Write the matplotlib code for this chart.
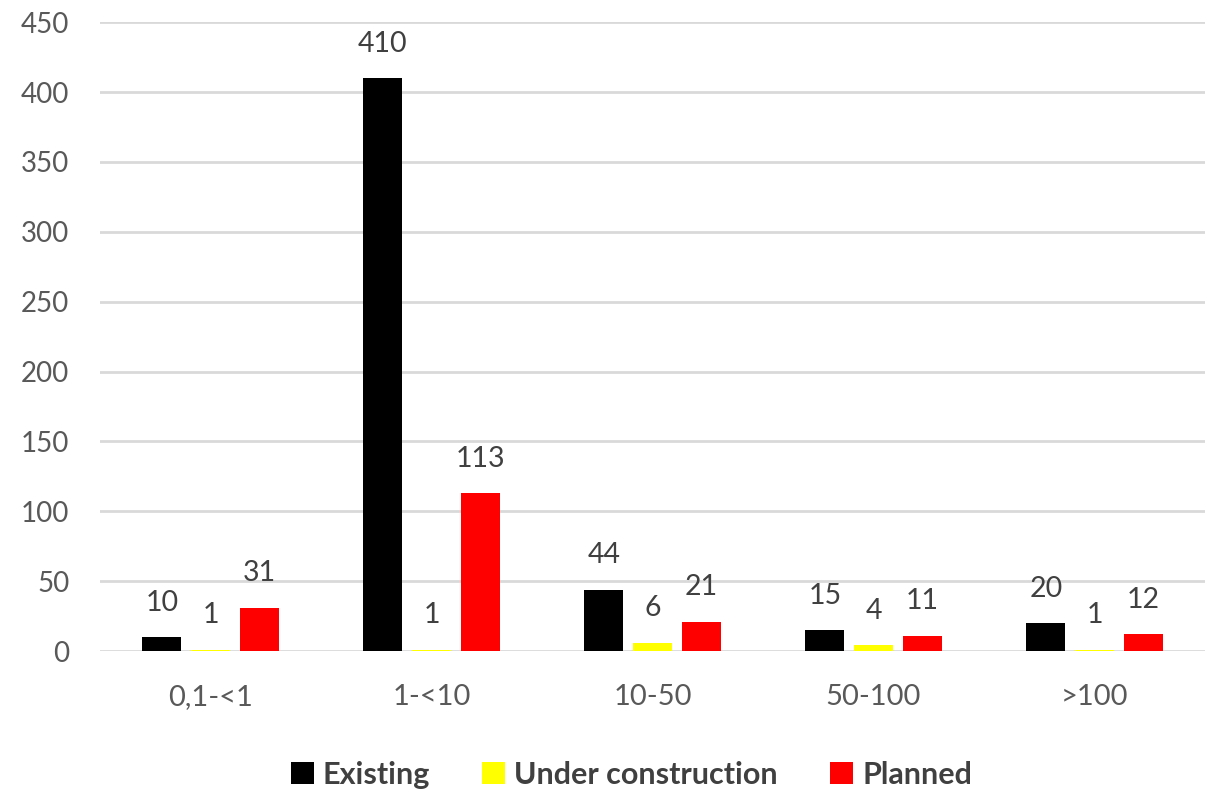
import matplotlib
matplotlib.use("Agg")
import matplotlib.pyplot as plt
import numpy as np

plt.rcParams['font.family'] = ['Lato', 'DejaVu Sans']

categories = ['0,1-<1', '1-<10', '10-50', '50-100', '>100']
existing = [10, 410, 44, 15, 20]
under_construction = [1, 1, 6, 4, 1]
planned = [31, 113, 21, 11, 12]

series = [
    ('Existing', existing, '#000000'),
    ('Under construction', under_construction, '#ffff00'),
    ('Planned', planned, '#ff0000'),
]

fig = plt.figure(figsize=(12.05, 7.92), dpi=100)
ax = fig.add_axes([0.083, 0.178, 0.917, 0.794])

x = np.arange(len(categories))
width = 0.176
step = 0.22

for i, (name, vals, color) in enumerate(series):
    pos = x + (i - 1) * step
    bars = ax.bar(pos, vals, width, color=color, label=name, zorder=3)
    for b, v in zip(bars, vals):
        ax.annotate(str(v), (b.get_x() + b.get_width() / 2, v),
                    xytext=(0, 19), textcoords='offset points',
                    ha='center', va='baseline', fontsize=20.5, color='#404040')

ax.set_xlim(-0.5, len(categories) - 0.5)
ax.set_ylim(0, 450)
ax.set_yticks(range(0, 451, 50))
ax.set_xticks(x)
ax.set_xticklabels(categories)
ax.tick_params(axis='both', length=0, labelsize=20, labelcolor='#595959')
ax.tick_params(axis='x', pad=24, labelsize=21)
ax.tick_params(axis='y', pad=22)
ax.grid(axis='y', color='#d9d9d9', linewidth=2, zorder=0)
for s in ax.spines.values():
    s.set_visible(False)

fig.legend(loc='center', bbox_to_anchor=(0.524, 0.022), ncol=3, frameon=False,
           handlelength=0.75, handleheight=0.75, handletextpad=0.3,
           columnspacing=1.7, labelcolor='#404040',
           prop={'weight': 'bold', 'size': 22})

fig.savefig('out.png', dpi=100)
